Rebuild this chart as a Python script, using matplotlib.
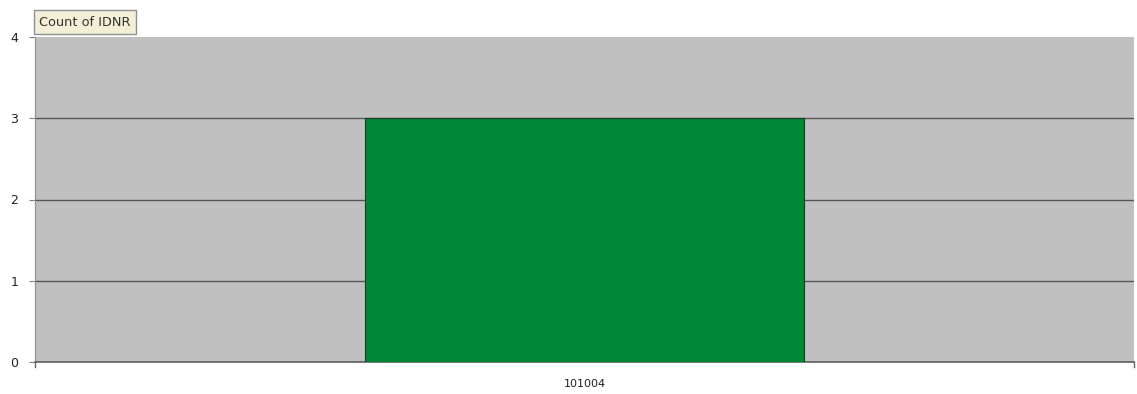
import matplotlib.pyplot as plt

categories = ['101004']
counts = [3]
y_ticks = [0, 1, 2, 3, 4]

W, H = 1137, 394
fig = plt.figure(figsize=(W / 100, H / 100), dpi=100)
ax = fig.add_axes([35 / W, 1 - 362 / H, (1134 - 35) / W, (362 - 37) / H])

ax.set_facecolor('#c0c0c0')
ax.bar(range(len(categories)), counts, width=0.4, color='#008837',
       edgecolor='#1e3a28', linewidth=0.8, zorder=3)
ax.set_xlim(-0.5, len(categories) - 0.5)
ax.set_ylim(0, 4)
ax.set_yticks(y_ticks)
ax.yaxis.grid(True, color='#555555', linewidth=1.0, zorder=1)
ax.yaxis.get_gridlines()[-1].set_visible(False)
ax.set_xticks(range(len(categories)))
ax.set_xticklabels(categories)
ax.tick_params(axis='x', length=0, labelsize=8, colors='#222222', pad=12)
ax.tick_params(axis='y', length=4, direction='out', labelsize=9, colors='#222222',
               pad=8, color='#808080')
# category boundary ticks
for xb in [-0.5, len(categories) - 0.5]:
    ax.plot([xb, xb], [0, -0.06], color='#666666', linewidth=1, clip_on=False)

for s in ['top', 'right']:
    ax.spines[s].set_visible(False)
ax.spines['left'].set_color('#909090')
ax.spines['bottom'].set_color('#606060')
ax.spines['bottom'].set_linewidth(1.2)

fig.text(39 / W, 1 - 22 / H, 'Count of IDNR', fontsize=9.3, color='#333333',
         va='center', ha='left',
         bbox=dict(boxstyle='square,pad=0.4', facecolor='#f2efd6', edgecolor='#909090', linewidth=1))

fig.savefig('out.png', dpi=100)
